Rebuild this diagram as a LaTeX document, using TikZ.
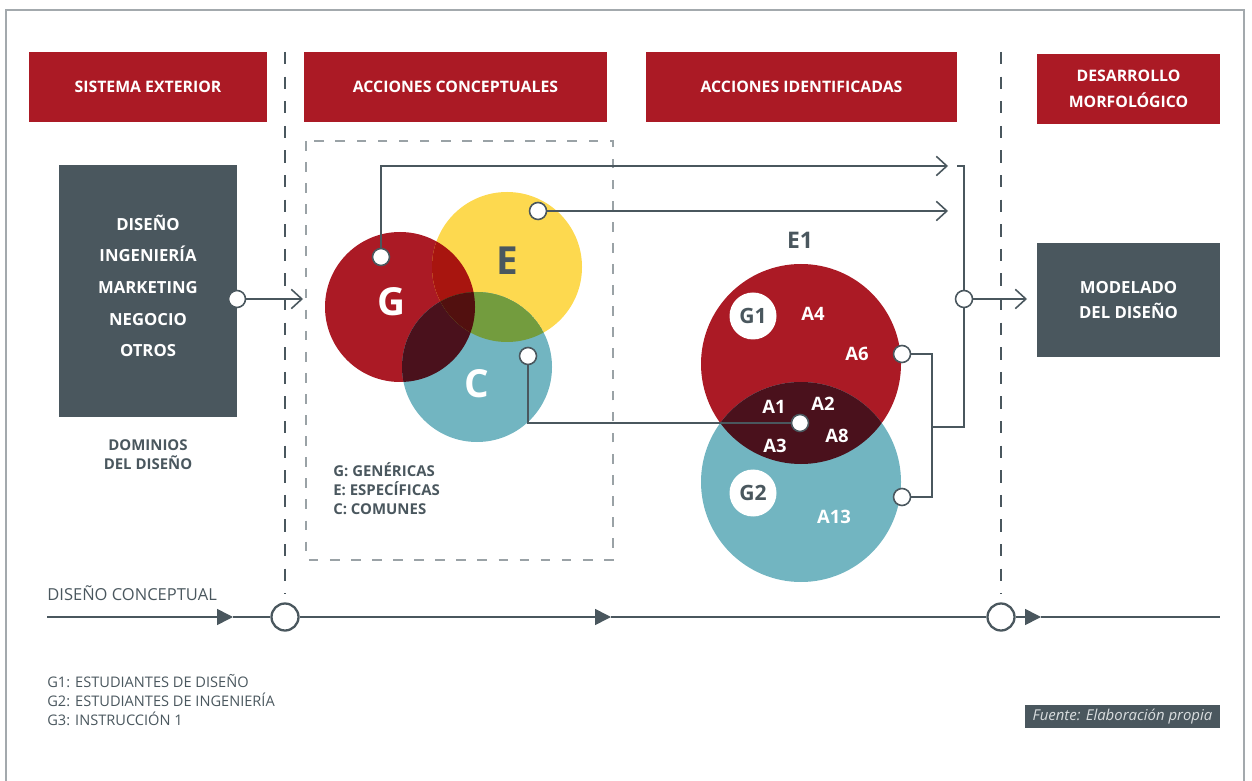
\documentclass[tikz,border=0pt]{standalone}
\usepackage{fontspec}
\setmainfont{Open Sans}
\usetikzlibrary{arrows.meta}
\definecolor{rojo}{HTML}{AB1A25}
\definecolor{pizarra}{HTML}{4A575E}
\definecolor{amarillo}{HTML}{FDD94F}
\definecolor{turquesa}{HTML}{72B5C1}
\definecolor{rojoE}{HTML}{A8150F}
\definecolor{verde}{HTML}{739C3E}
\definecolor{granate}{HTML}{4A111C}
\definecolor{granateT}{HTML}{52100F}
\definecolor{gris}{HTML}{9AA2A6}
\definecolor{marco}{HTML}{A3A9AD}
\definecolor{claro}{HTML}{D9DDDF}

\begin{document}
\begin{tikzpicture}[x=0.2mm, y=-0.2mm,
	head/.style={fill=rojo, text=white, align=center, inner sep=0pt, minimum height=14mm, font=\bfseries\fontsize{9}{14.7}\selectfont},
	dbox/.style={fill=pizarra, text=white, align=center, inner sep=0pt, font=\bfseries\fontsize{9.5}{14.7}\selectfont},
	dot/.style={circle, draw=pizarra, fill=white, line width=0.9pt, inner sep=0pt, minimum size=3.4mm},
	ring/.style={circle, draw=pizarra, fill=white, line width=1.3pt, inner sep=0pt, minimum size=5.4mm},
	gcirc/.style={circle, fill=white, text=pizarra, inner sep=0pt, minimum size=9.4mm, font=\bfseries\fontsize{12}{12}\selectfont},
	alab/.style={text=white, inner sep=0pt, font=\bfseries\fontsize{10.5}{10.5}\selectfont},
	vlet/.style={inner sep=0pt, font=\bfseries\fontsize{22}{22}\selectfont},
	wire/.style={draw=pizarra, line width=0.9pt},
	barb/.style={wire, -{Straight Barb[length=6pt, width=11pt]}},
	tri/.style={wire, -{Triangle[length=9pt, width=9pt]}},
	vdash/.style={draw=pizarra, line width=0.7pt, dash pattern=on 7pt off 7pt},
	rdash/.style={draw=gris, line width=0.7pt, dash pattern=on 5.5pt off 6.5pt}]
	\useasboundingbox (0,0) rectangle (1252,781);
	\draw [marco, line width=0.8pt] (6,781) -- (6,10) -- (1244,10) -- (1244,781);
	% cabeceras
	\path (148,87) node (h1) [head, minimum width=47.6mm] {SISTEMA EXTERIOR};
	\path (455.5,87) node (h2) [head, minimum width=60.6mm] {ACCIONES CONCEPTUALES};
	\path (801.5,87) node (h3) [head, minimum width=62.2mm] {ACCIONES IDENTIFICADAS};
	\path (1128.5,89) node (h4) [head, minimum width=36.6mm] {DESARROLLO\\MORFOLÓGICO};
	\draw [vdash] (285,52) -- (285,594);
	\draw [vdash] (1001,52) -- (1001,594);
	\draw [rdash] (306,141) rectangle (613,560);
	% sistema exterior
	\path (148,291) node (d1) [dbox, minimum width=35.6mm, minimum height=50.4mm] {};
	\path (148,286) node (d2) [text=white, align=center, font=\bfseries\fontsize{9.5}{18}\selectfont] {DISEÑO\\INGENIERÍA\\MARKETING\\NEGOCIO\\OTROS};
	\path (148,455) node (d3) [text=pizarra, align=center, font=\bfseries\fontsize{8.5}{10.8}\selectfont] {DOMINIOS\\DEL DISEÑO};
	\path (237,299) node (p0) [dot] {};
	\coordinate (q0) at (303,299);
	\draw [barb] (p0) -- (q0);
	% acciones conceptuales
	\coordinate (cG) at (400,307);
	\coordinate (cE) at (507,267);
	\coordinate (cC) at (477,367);
	\fill [rojo] (cG) circle (1.5cm);
	\fill [amarillo] (cE) circle (1.5cm);
	\fill [turquesa] (cC) circle (1.5cm);
	\begin{scope}
		\clip (cG) circle (1.5cm);
		\fill [rojoE] (cE) circle (1.5cm);
		\fill [granate] (cC) circle (1.5cm);
		\clip (cE) circle (1.5cm);
		\fill [granateT] (cC) circle (1.5cm);
	\end{scope}
	\begin{scope}
		\clip (cE) circle (1.5cm);
		\clip (cC) circle (1.5cm);
		\fill [verde] (cC) circle (1.5cm);
		\clip (cG) circle (1.5cm);
		\fill [granateT] (cC) circle (1.5cm);
	\end{scope}
	\path (391,302) node (lG) [vlet, text=white] {G};
	\path (507,261) node (lE) [vlet, text=pizarra] {E};
	\path (477,384) node (lC) [vlet, text=white] {C};
	\path (333,489) node (l1) [anchor=west, inner sep=0pt, align=left, text=pizarra, font=\bfseries\fontsize{8.5}{10.8}\selectfont] {G: GENÉRICAS\\E: ESPECÍFICAS\\C: COMUNES};
	% acciones identificadas
	\coordinate (cR) at (801,364);
	\coordinate (cT) at (801,482);
	\fill [rojo] (cR) circle (2cm);
	\fill [turquesa] (cT) circle (2cm);
	\begin{scope}
		\clip (cR) circle (2cm);
		\fill [granate] (cT) circle (2cm);
	\end{scope}
	\path (800,240) node (e1) [text=pizarra, font=\bfseries\fontsize{13}{13}\selectfont] {E1};
	\path (753,316) node (g1) [gcirc] {G1};
	\path (753,493) node (g2) [gcirc] {G2};
	\path (813,314) node (a4) [alab] {A4};
	\path (857,354) node (a6) [alab] {A6};
	\path (774,407) node (a1) [alab] {A1};
	\path (823,404) node (a2) [alab] {A2};
	\path (775,446) node (a3) [alab] {A3};
	\path (837,436) node (a8) [alab] {A8};
	\path (834,517) node (a13) [alab] {A13};
	% conexiones
	\path (381,257) node (pG) [dot] {};
	\path (538,211) node (pE) [dot] {};
	\path (528,356) node (pC) [dot] {};
	\path (800,423) node (pA) [dot] {};
	\coordinate (qG) at (948,166);
	\coordinate (qE) at (948,211);
	\draw [barb] (pG) |- (qG);
	\draw [barb] (pE) -- (qE);
	\draw [wire] (pC) |- (pA);
	\path (902,354) node (pA6) [dot] {};
	\path (902,497) node (pA13) [dot] {};
	\coordinate (r4) at (932,497);
	\draw [wire] (pA6) -| (r4) -- (pA13);
	\coordinate (r0) at (957,166);
	\coordinate (r1) at (964,166);
	\coordinate (r2) at (964,427);
	\coordinate (r3) at (932,427);
	\path (964,299) node (pO) [dot] {};
	\draw [wire] (r0) -- (r1) -- (pO);
	\draw [wire] (pO) -- (r2) -- (r3);
	\coordinate (qO) at (1027,299);
	\draw [barb] (pO) -- (qO);
	% desarrollo morfologico
	\path (1128.5,300) node (m1) [dbox, minimum width=36.6mm, minimum height=22.8mm] {MODELADO\\DEL DISEÑO};
	% linea de tiempo
	\path (47,593) node (l2) [anchor=west, inner sep=0pt, text=pizarra, font=\fontsize{9.4}{9.4}\selectfont] {DISEÑO CONCEPTUAL};
	\coordinate (t0) at (47,617);
	\path (285,617) node (t1) [ring] {};
	\path (1001,617) node (t2) [ring] {};
	\coordinate (t3) at (1220,617);
	\coordinate (a1t) at (233,617);
	\coordinate (a2t) at (611,617);
	\coordinate (a3t) at (1041,617);
	\draw [tri] (t0) -- (a1t);
	\draw [wire] (a1t) -- (t1);
	\draw [tri] (t1) -- (a2t);
	\draw [wire] (a2t) -- (t2);
	\draw [tri] (t2) -- (a3t);
	\draw [wire] (a3t) -- (t3);
	\path (47,700) node (l3) [anchor=west, inner sep=0pt, align=left, text=pizarra, font=\fontsize{8.3}{10.8}\selectfont] {G1: ESTUDIANTES DE DISEÑO\\G2: ESTUDIANTES DE INGENIERÍA\\G3: INSTRUCCIÓN 1};
	\path (1122.5,716.5) node (f1) [fill=pizarra, text=claro, inner sep=0pt, minimum width=39mm, minimum height=4.6mm, font=\itshape\fontsize{8.5}{8.5}\selectfont] {Fuente: Elaboración propia};
\end{tikzpicture}
\end{document}
